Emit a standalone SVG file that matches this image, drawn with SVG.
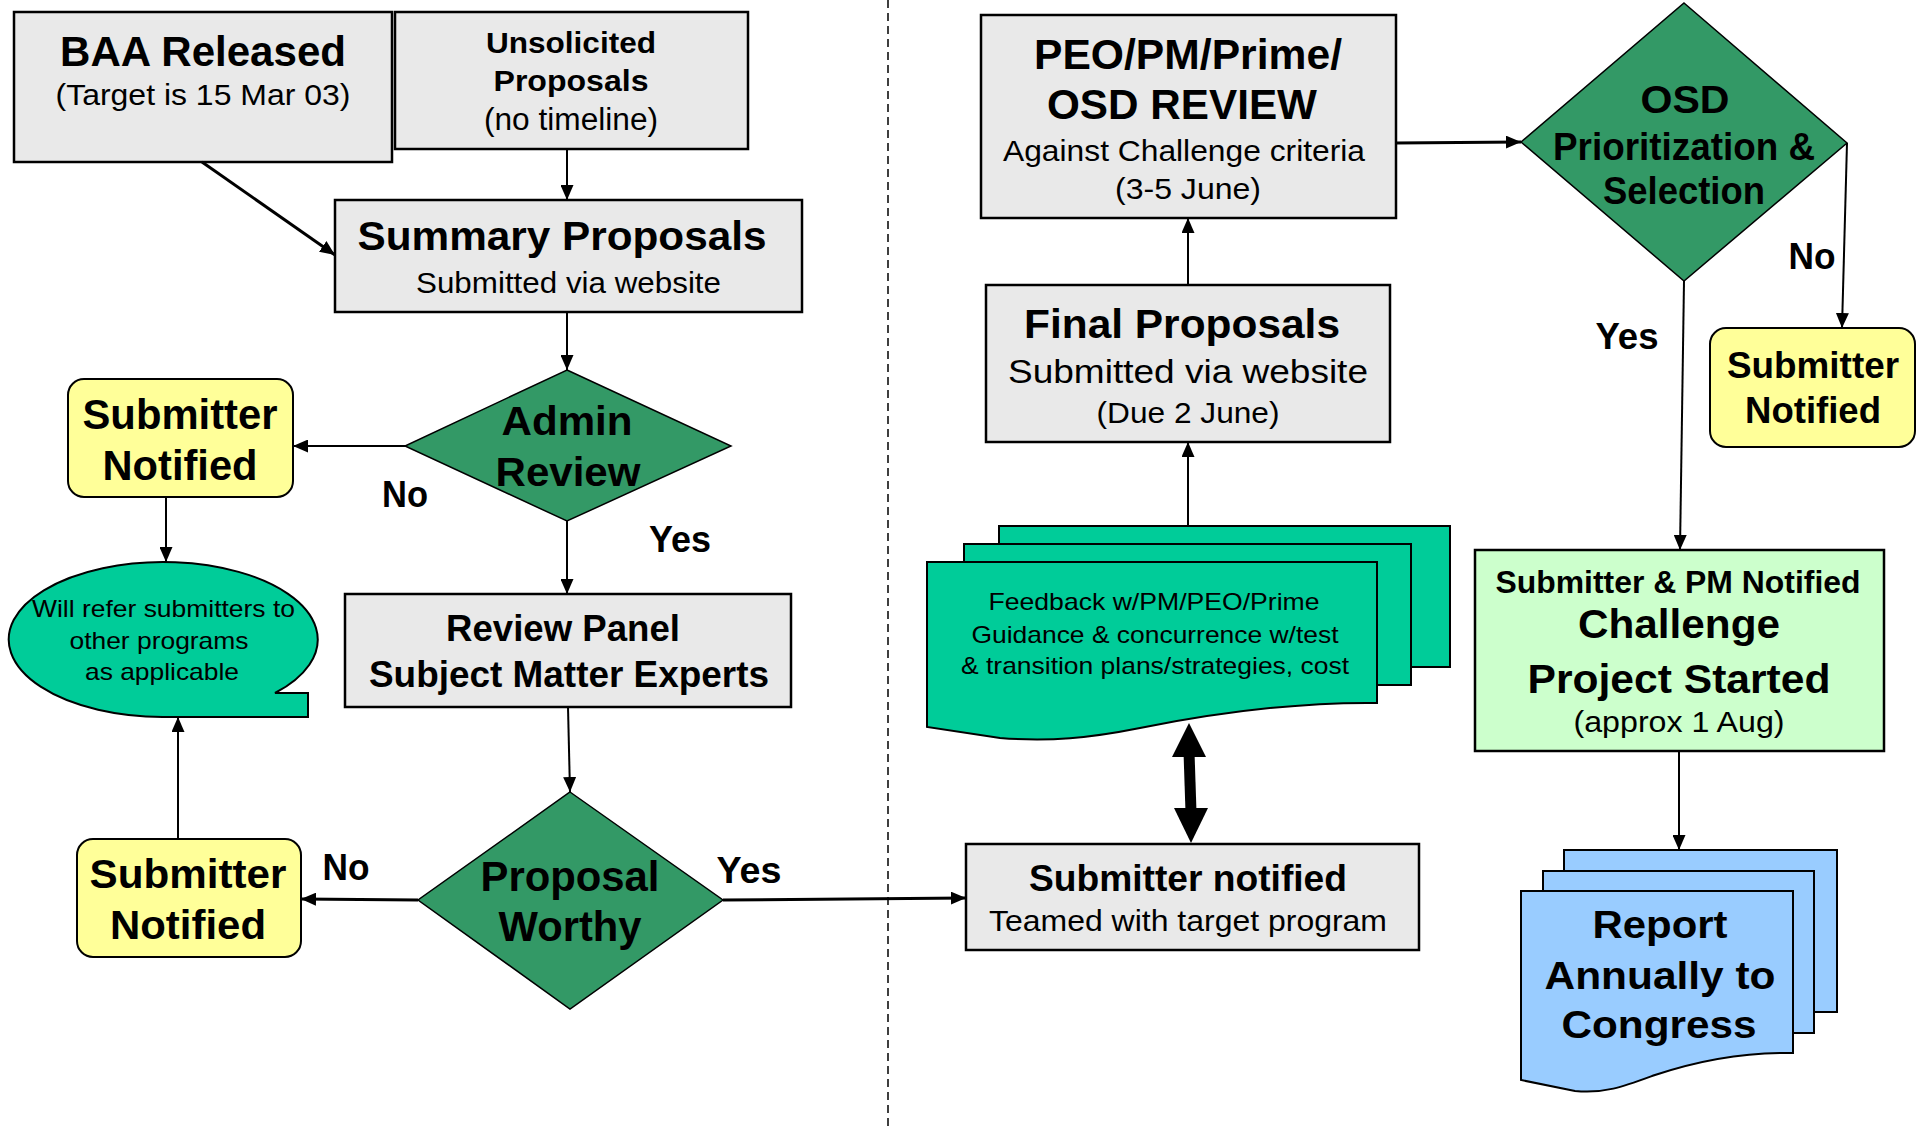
<svg xmlns="http://www.w3.org/2000/svg" width="1919" height="1126" viewBox="0 0 1919 1126">
<defs>
<style>
text{font-family:"Liberation Sans",Arial,Helvetica,sans-serif;fill:#000;text-anchor:middle}
.b{font-weight:bold}
.box{fill:#e9e9e9;stroke:#000;stroke-width:2.5}
.yel{fill:#ffff99;stroke:#000;stroke-width:2}
.dia{fill:#339966;stroke:#000;stroke-width:1.5}
.teal{fill:#00cc99;stroke:#000;stroke-width:2}
.lg{fill:#ccffcc;stroke:#000;stroke-width:2.5}
.blue{fill:#99ccff;stroke:#000;stroke-width:2}
.c{fill:none;stroke:#000;stroke-width:2;marker-end:url(#ah)}
.ct{fill:none;stroke:#000;stroke-width:3;marker-end:url(#ah)}
</style>
<marker id="ah" markerUnits="userSpaceOnUse" markerWidth="15" markerHeight="13" refX="15" refY="6.5" orient="auto">
<path d="M0,0 L15,6.5 L0,13 Z" fill="#000"/>
</marker>
</defs>
<rect width="1919" height="1126" fill="#fff"/>
<line x1="888" y1="0" x2="888" y2="1126" stroke="#000" stroke-width="1.5" stroke-dasharray="8 5"/>

<g id="baa">
<rect class="box" x="14" y="12" width="378" height="150"/>
<text class="b" x="203" y="66" font-size="43" textLength="286" lengthAdjust="spacingAndGlyphs">BAA Released</text>
<text x="203" y="105" font-size="30" textLength="295" lengthAdjust="spacingAndGlyphs">(Target is 15 Mar 03)</text>
</g>
<g id="unsolicited">
<rect class="box" x="395" y="12" width="353" height="137"/>
<text class="b" x="571" y="53" font-size="30" textLength="170" lengthAdjust="spacingAndGlyphs">Unsolicited</text>
<text class="b" x="571" y="91" font-size="30" textLength="155" lengthAdjust="spacingAndGlyphs">Proposals</text>
<text x="571" y="130" font-size="31" textLength="174" lengthAdjust="spacingAndGlyphs">(no timeline)</text>
</g>
<g id="summary">
<rect class="box" x="335" y="200" width="467" height="112"/>
<text class="b" x="562" y="250" font-size="40" textLength="409" lengthAdjust="spacingAndGlyphs">Summary Proposals</text>
<text x="568.5" y="293" font-size="30" textLength="305" lengthAdjust="spacingAndGlyphs">Submitted via website</text>
</g>
<g id="admin">
<polygon class="dia" points="567,370 731,446 567,521 405,446"/>
<text class="b" x="567" y="435" font-size="41" textLength="131" lengthAdjust="spacingAndGlyphs">Admin</text>
<text class="b" x="568" y="486" font-size="41" textLength="145" lengthAdjust="spacingAndGlyphs">Review</text>
</g>
<g id="notified1">
<rect class="yel" x="68" y="379" width="225" height="118" rx="16"/>
<text class="b" x="180" y="429" font-size="43" textLength="195" lengthAdjust="spacingAndGlyphs">Submitter</text>
<text class="b" x="180" y="480" font-size="43" textLength="155" lengthAdjust="spacingAndGlyphs">Notified</text>
</g>
<g id="bubble">
<path class="teal" d="M275,693 L308,693 L308,717 L162.5,717 A154.5,77.5 0 1 1 275,693 Z"/>
<text x="163.5" y="617" font-size="24" textLength="263" lengthAdjust="spacingAndGlyphs">Will refer submitters to</text>
<text x="159" y="649" font-size="24" textLength="179" lengthAdjust="spacingAndGlyphs">other programs</text>
<text x="162" y="680" font-size="24" textLength="154" lengthAdjust="spacingAndGlyphs">as applicable</text>
</g>
<g id="review">
<rect class="box" x="345" y="594" width="446" height="113"/>
<text class="b" x="563" y="641" font-size="36" textLength="234" lengthAdjust="spacingAndGlyphs">Review Panel</text>
<text class="b" x="569" y="687" font-size="36" textLength="400" lengthAdjust="spacingAndGlyphs">Subject Matter Experts</text>
</g>
<g id="worthy">
<polygon class="dia" points="570,792 723,900 570,1009 418,900"/>
<text class="b" x="570" y="891" font-size="42" textLength="179" lengthAdjust="spacingAndGlyphs">Proposal</text>
<text class="b" x="570" y="941" font-size="42" textLength="143" lengthAdjust="spacingAndGlyphs">Worthy</text>
</g>
<g id="notified2">
<rect class="yel" x="77" y="839" width="224" height="118" rx="16"/>
<text class="b" x="188" y="888" font-size="41" textLength="197" lengthAdjust="spacingAndGlyphs">Submitter</text>
<text class="b" x="188" y="939" font-size="41" textLength="156" lengthAdjust="spacingAndGlyphs">Notified</text>
</g>
<g id="peo">
<rect class="box" x="981" y="15" width="415" height="203"/>
<text class="b" x="1188" y="69" font-size="42" textLength="308" lengthAdjust="spacingAndGlyphs">PEO/PM/Prime/</text>
<text class="b" x="1182" y="119" font-size="42" textLength="270" lengthAdjust="spacingAndGlyphs">OSD REVIEW</text>
<text x="1184" y="161" font-size="30" textLength="362" lengthAdjust="spacingAndGlyphs">Against Challenge criteria</text>
<text x="1188" y="199" font-size="30" textLength="146" lengthAdjust="spacingAndGlyphs">(3-5 June)</text>
</g>
<g id="osd">
<polygon class="dia" points="1684,3 1847,143 1684,281 1521,142"/>
<text class="b" x="1685" y="113" font-size="39" textLength="89" lengthAdjust="spacingAndGlyphs">OSD</text>
<text class="b" x="1684" y="160" font-size="39" textLength="262" lengthAdjust="spacingAndGlyphs">Prioritization &amp;</text>
<text class="b" x="1684" y="204" font-size="39" textLength="162" lengthAdjust="spacingAndGlyphs">Selection</text>
</g>
<g id="final">
<rect class="box" x="986" y="285" width="404" height="157"/>
<text class="b" x="1182" y="338" font-size="41" textLength="316" lengthAdjust="spacingAndGlyphs">Final Proposals</text>
<text x="1188" y="383" font-size="34" textLength="360" lengthAdjust="spacingAndGlyphs">Submitted via website</text>
<text x="1188" y="423" font-size="30" textLength="183" lengthAdjust="spacingAndGlyphs">(Due 2 June)</text>
</g>
<g id="notified3">
<rect class="yel" x="1710" y="328" width="205" height="119" rx="16"/>
<text class="b" x="1813" y="378" font-size="37" textLength="172" lengthAdjust="spacingAndGlyphs">Submitter</text>
<text class="b" x="1813" y="423" font-size="37" textLength="136" lengthAdjust="spacingAndGlyphs">Notified</text>
</g>
<g id="feedback">
<rect class="teal" x="999" y="526" width="451" height="141"/>
<rect class="teal" x="964" y="544" width="447" height="141"/>
<path class="teal" d="M927,562 L1377,562 L1377,703 C1300,702 1220,712 1140,728 C1090,738 1050,742 1000,738 L927,727 Z"/>
<text x="1154" y="610" font-size="24" textLength="331" lengthAdjust="spacingAndGlyphs">Feedback w/PM/PEO/Prime</text>
<text x="1155" y="643" font-size="24" textLength="367" lengthAdjust="spacingAndGlyphs">Guidance &amp; concurrence w/test</text>
<text x="1155" y="674" font-size="24" textLength="388" lengthAdjust="spacingAndGlyphs">&amp; transition plans/strategies, cost</text>
</g>
<g id="teamed">
<rect class="box" x="966" y="844" width="453" height="106"/>
<text class="b" x="1188" y="891" font-size="37" textLength="318" lengthAdjust="spacingAndGlyphs">Submitter notified</text>
<text x="1188" y="931" font-size="30" textLength="398" lengthAdjust="spacingAndGlyphs">Teamed with target program</text>
</g>
<g id="challenge">
<rect class="lg" x="1475" y="550" width="409" height="201"/>
<text class="b" x="1678" y="593" font-size="32" textLength="365" lengthAdjust="spacingAndGlyphs">Submitter &amp; PM Notified</text>
<text class="b" x="1679" y="638" font-size="41" textLength="202" lengthAdjust="spacingAndGlyphs">Challenge</text>
<text class="b" x="1679" y="693" font-size="41" textLength="303" lengthAdjust="spacingAndGlyphs">Project Started</text>
<text x="1679" y="732" font-size="29" textLength="211" lengthAdjust="spacingAndGlyphs">(approx 1 Aug)</text>
</g>
<g id="report">
<rect class="blue" x="1564" y="850" width="273" height="162"/>
<rect class="blue" x="1543" y="871" width="271" height="162"/>
<path class="blue" d="M1521,891 L1793,891 L1793,1053 C1745,1052 1700,1060 1655,1075 C1625,1086 1605,1094 1575,1091 L1521,1080 Z"/>
<text class="b" x="1660" y="938" font-size="38" textLength="135" lengthAdjust="spacingAndGlyphs">Report</text>
<text class="b" x="1660" y="989" font-size="38" textLength="231" lengthAdjust="spacingAndGlyphs">Annually to</text>
<text class="b" x="1659" y="1038" font-size="38" textLength="195" lengthAdjust="spacingAndGlyphs">Congress</text>
</g>

<g id="connectors">
<line class="ct" x1="202" y1="162" x2="335" y2="255"/>
<line class="c" x1="567" y1="149" x2="567" y2="200"/>
<line class="c" x1="567" y1="312" x2="567" y2="370"/>
<line class="c" x1="405" y1="446" x2="293" y2="446"/>
<line class="c" x1="567" y1="521" x2="567" y2="594"/>
<line class="c" x1="166" y1="497" x2="166" y2="562"/>
<line class="c" x1="568" y1="707" x2="570" y2="792"/>
<line class="ct" x1="418" y1="900" x2="301" y2="899"/>
<line class="c" x1="178" y1="839" x2="178" y2="717"/>
<line class="ct" x1="723" y1="900" x2="966" y2="898"/>
<line class="c" x1="1188" y1="526" x2="1188" y2="442"/>
<line class="c" x1="1188" y1="285" x2="1188" y2="218"/>
<line class="ct" x1="1396" y1="143" x2="1521" y2="142"/>
<line class="c" x1="1684" y1="281" x2="1680" y2="550"/>
<line class="c" x1="1847" y1="143" x2="1842" y2="328"/>
<line class="c" x1="1679" y1="751" x2="1679" y2="850"/>
<line x1="1189" y1="752" x2="1191" y2="812" stroke="#000" stroke-width="11"/>
<polygon points="1189,723 1206,757 1172,757" fill="#000"/>
<polygon points="1191,843 1208,808 1174,808" fill="#000"/>
<text class="b" x="405" y="507" font-size="36" textLength="46" lengthAdjust="spacingAndGlyphs">No</text>
<text class="b" x="680" y="552" font-size="36" textLength="62" lengthAdjust="spacingAndGlyphs">Yes</text>
<text class="b" x="346" y="880" font-size="36" textLength="47" lengthAdjust="spacingAndGlyphs">No</text>
<text class="b" x="749" y="883" font-size="36" textLength="65" lengthAdjust="spacingAndGlyphs">Yes</text>
<text class="b" x="1812" y="269" font-size="37" textLength="47" lengthAdjust="spacingAndGlyphs">No</text>
<text class="b" x="1627" y="349" font-size="37" textLength="63" lengthAdjust="spacingAndGlyphs">Yes</text>
</g>
</svg>
